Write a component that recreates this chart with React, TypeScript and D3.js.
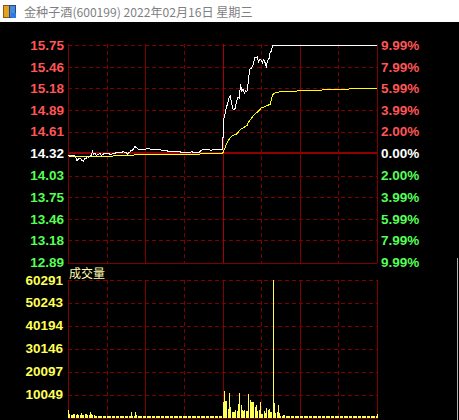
import React from "react";
import * as d3 from "d3";

const W = 459;
const H = 420;

const titleText = "金种子酒(600199) 2022年02月16日 星期三";
const volTitle = "成交量";

// price axis tick labels (bottom -> top)
const priceTicks = [12.89, 13.18, 13.46, 13.75, 14.03, 14.32, 14.61, 14.89, 15.18, 15.46, 15.75];
const priceTickLabels = ["12.89", "13.18", "13.46", "13.75", "14.03", "14.32", "14.61", "14.89", "15.18", "15.46", "15.75"];
const pctTickLabels = ["9.99%", "7.99%", "5.99%", "3.99%", "2.00%", "0.00%", "2.00%", "3.99%", "5.99%", "7.99%", "9.99%"];
const preClose = 14.32;

const volTicks = [10049, 20097, 30146, 40194, 50243, 60291];
const volMax = 60291;

const gridMinutes = [0, 30, 60, 90, 120, 150, 180, 210, 240];

// [minute index, price]
const pricePoints: [number, number][] = [
  [0, 14.30], [1, 14.29], [2, 14.28], [3, 14.30], [4, 14.29], [5, 14.30], [6, 14.27], [7, 14.23], [8, 14.25], [9, 14.26],
  [10, 14.25], [11, 14.23], [12, 14.22], [13, 14.26], [14, 14.25], [15, 14.28], [16, 14.27], [17, 14.29], [18, 14.30], [19, 14.35],
  [20, 14.31], [21, 14.33], [22, 14.30], [23, 14.31], [25, 14.32], [26, 14.30], [27, 14.31], [28, 14.32], [30, 14.32], [31, 14.33],
  [32, 14.32], [33, 14.31], [35, 14.32], [37, 14.33], [38, 14.34], [40, 14.34], [41, 14.33], [43, 14.35], [44, 14.34], [45, 14.34],
  [46, 14.31], [47, 14.33], [48, 14.34], [49, 14.37], [50, 14.36], [51, 14.39], [52, 14.42], [53, 14.40], [54, 14.39], [55, 14.37],
  [56, 14.38], [60, 14.38], [62, 14.39], [64, 14.38], [66, 14.38], [67, 14.37], [72, 14.37], [74, 14.36], [76, 14.37], [78, 14.35],
  [86, 14.35], [88, 14.34], [95, 14.34], [96, 14.35], [97, 14.34], [102, 14.34], [104, 14.37], [110, 14.37], [111, 14.36], [112, 14.37],
  [120, 14.37], [121, 14.78], [122, 14.85], [123, 14.93], [124, 14.98], [125, 15.05], [126, 15.08], [127, 14.99], [128, 14.91], [129, 14.90],
  [130, 14.92], [131, 15.02], [132, 15.06], [133, 15.05], [134, 15.23], [135, 15.15], [136, 15.17], [137, 15.12], [138, 15.15], [139, 15.14],
  [140, 15.26], [141, 15.43], [142, 15.44], [143, 15.46], [144, 15.50], [145, 15.58], [146, 15.58], [147, 15.59], [148, 15.53], [149, 15.56],
  [150, 15.55], [151, 15.52], [152, 15.56], [153, 15.52], [154, 15.47], [155, 15.55], [156, 15.56], [157, 15.65], [158, 15.67], [159, 15.75],
  [240, 15.75],
];

// [minute index, average price]
const avgPoints: [number, number][] = [
  [0, 14.30], [2, 14.29], [8, 14.28], [18, 14.28], [19, 14.29], [35, 14.29], [36, 14.30], [51, 14.30], [52, 14.31], [102, 14.31],
  [103, 14.32], [120, 14.32], [121, 14.36], [122, 14.40], [123, 14.45], [124, 14.48], [126, 14.53], [128, 14.56], [131, 14.58], [134, 14.64],
  [136, 14.66], [139, 14.69], [140, 14.73], [143, 14.80], [145, 14.84], [148, 14.88], [150, 14.92], [153, 14.94], [157, 14.97], [158, 15.04],
  [159, 15.10], [162, 15.13], [170, 15.14], [185, 15.15], [200, 15.16], [215, 15.17], [240, 15.18],
];

const volumeMorning = [
  3370, 1500, 1200, 1300, 1500, 1400, 1200, 1600, 1000, 1300,
  1900, 1200, 1000, 1600, 1600, 1100, 1000, 2600, 1600, 900,
  900, 600, 500, 450, 500, 450, 450, 500, 450, 700,
  740, 450, 450, 500, 450, 450, 450, 450, 450, 740,
  740, 450, 740, 450, 450, 450, 450, 450, 450, 2200,
  700, 600, 2600, 900, 450, 450, 450, 450, 450, 450,
  450, 450, 450, 450, 450, 450, 450, 450, 450, 450,
  450, 450, 450, 450, 450, 450, 450, 450, 450, 450,
  450, 450, 450, 450, 450, 450, 450, 450, 450, 450,
  450, 450, 450, 450, 450, 450, 450, 450, 450, 450,
  450, 450, 450, 450, 450, 450, 450, 450, 450, 450,
  450, 450, 870, 450, 450, 450, 450, 450, 450, 450,
];

const volumeAfternoon = [
  7000, 11650, 7400, 7300, 3800, 10900, 4800, 2600, 2600, 2600,
  3370, 3000, 6000, 10900, 5560, 3370, 3060, 3370, 3060, 3060,
  10340, 7740, 7000, 7000, 7000, 4800, 5560, 3060, 3370, 7000,
  1600, 1600, 3060, 1900, 4100, 3370, 3800, 2200, 2500, 60291,
  6290, 1900, 2200, 5560, 1900, 870, 600, 1160, 1160, 870,
  600, 600, 450, 450, 450, 450, 450, 450, 450, 870,
  450, 450, 450, 600, 450, 450, 450, 450, 450, 450,
  450, 450, 450, 450, 450, 450, 450, 450, 450, 450,
  450, 450, 450, 450, 450, 450, 450, 450, 450, 450,
  450, 450, 450, 450, 870, 450, 450, 450, 450, 600,
  450, 450, 450, 450, 450, 450, 450, 450, 450, 450,
  450, 450, 450, 450, 450, 450, 450, 450, 450, 450,
  1500,
];

const RED = "#ff5555";
const GREEN = "#55ff55";
const GRID = "#800000";
const LABEL_FONT = "'Liberation Sans', Arial, sans-serif";
const CJK_FONT = "'Noto Sans CJK SC', sans-serif";

export default function App() {
  const volumes = volumeMorning.concat(volumeAfternoon);
  const x = d3.scaleLinear().domain([0, 240]).range([68, 377]);
  const yP = d3.scaleLinear().domain([12.89, 15.75]).range([262.5, 45]);
  const yV = d3.scaleLinear().domain([0, volMax]).range([417.5, 280]);

  const left = x(0);
  const right = x(240);
  const pTop = yP(15.75);
  const pBot = yP(12.89);
  const vTop = yV(volMax);
  const vBot = yV(0);

  const priceLine = d3
    .line<[number, number]>()
    .x((d) => x(d[0]))
    .y((d) => yP(d[1]));

  const snap = (v: number) => Math.round(v) + 0.5;

  const labelColor = (v: number) => (Math.abs(v - preClose) < 0.001 ? "#ffffff" : v > preClose ? RED : GREEN);

  const vLine = (m: number, y1: number, y2: number, key: string, midColor: string) => {
    const xx = snap(x(m));
    const isSolid = m % 60 === 0;
    const isMid = m === 120;
    return (
      <line
        key={key}
        x1={xx}
        x2={xx}
        y1={y1}
        y2={y2}
        stroke={isMid ? midColor : GRID}
        strokeWidth={1}
        strokeDasharray={isSolid ? undefined : "4,3"}
      />
    );
  };

  return (
    <svg
      width={W}
      height={H}
      viewBox={`0 0 ${W} ${H}`}
      style={{ position: "absolute", left: 0, top: 0, display: "block" }}
      shapeRendering="crispEdges"
    >
      <rect x={0} y={0} width={W} height={H} fill="#000000" />
      {/* title bar */}
      <rect x={0} y={0} width={W} height={22} fill="#ffffff" />
      <g>
        <rect x={3} y={5} width={6} height={12} fill="#e8a020" stroke="#8a5a10" strokeWidth={1} />
        <rect x={9} y={5} width={6} height={12} fill="#4a8ad8" stroke="#1a4a8a" strokeWidth={1} />
        <rect x={11} y={13} width={5} height={5} fill="#2a7ae0" />
      </g>
      <text x={24} y={11} dominantBaseline="central" fontFamily={CJK_FONT} fontSize={12.1} fill="#7f7f7f">
        {titleText}
      </text>

      {/* price panel horizontal grid */}
      {priceTicks.map((v, i) => {
        const yy = snap(yP(v));
        if (i === 0) return <line key={"ph" + i} x1={left} x2={right} y1={yy} y2={yy} stroke={GRID} />;
        if (i === 5)
          return (
            <line key={"ph" + i} x1={left} x2={right} y1={Math.round(yP(v)) - 1} y2={Math.round(yP(v)) - 1} stroke="#900000" strokeWidth={2} />
          );
        return <line key={"ph" + i} x1={left} x2={right} y1={yy} y2={yy} stroke={GRID} strokeDasharray="4,3" />;
      })}
      {gridMinutes.map((m) => vLine(m, pTop - 1, pBot + 0.5, "pv" + m, "#a80000"))}

      {/* volume panel grid */}
      {volTicks.map((v, i) => {
        const yy = snap(yV(v));
        return <line key={"vh" + i} x1={left} x2={right} y1={yy} y2={yy} stroke={GRID} strokeDasharray="4,3" />;
      })}
      <line x1={left} x2={right} y1={snap(vBot)} y2={snap(vBot)} stroke={GRID} />
      {gridMinutes.map((m) => vLine(m, vTop, vBot + 1, "vv" + m, GRID))}

      {/* price & average lines */}
      <path d={priceLine(avgPoints) || ""} fill="none" stroke="#ffff00" strokeWidth={1} />
      <path d={priceLine(pricePoints) || ""} fill="none" stroke="#ffffff" strokeWidth={1} />

      {/* volume bars */}
      {volumes.map((v, i) => {
        const top = Math.round(yV(v));
        const base = Math.round(vBot);
        return (
          <rect key={"vb" + i} x={Math.round(x(i))} y={top} width={1} height={Math.max(1, base - top)} fill="#ffff55" />
        );
      })}

      {/* price labels */}
      {priceTicks.map((v, i) => (
        <text
          key={"pl" + i}
          x={64}
          y={yP(v)}
          textAnchor="end"
          dominantBaseline="central"
          fontFamily={LABEL_FONT}
          fontWeight="bold"
          fontSize={13.5}
          fill={labelColor(v)}
        >
          {priceTickLabels[i]}
        </text>
      ))}
      {priceTicks.map((v, i) => (
        <text
          key={"pc" + i}
          x={381}
          y={yP(v)}
          textAnchor="start"
          dominantBaseline="central"
          fontFamily={LABEL_FONT}
          fontWeight="bold"
          fontSize={13.5}
          fill={labelColor(v)}
        >
          {pctTickLabels[pctTickLabels.length - 1 - i]}
        </text>
      ))}

      {/* volume labels */}
      {volTicks.map((v, i) => (
        <text
          key={"vl" + i}
          x={63}
          y={yV(v)}
          textAnchor="end"
          dominantBaseline="central"
          fontFamily={LABEL_FONT}
          fontWeight="bold"
          fontSize={13.5}
          fill="#ffff55"
        >
          {String(v)}
        </text>
      ))}
      <text x={69} y={272} dominantBaseline="central" fontFamily={CJK_FONT} fontSize={12} fill="#ffffb0">
        {volTitle}
      </text>

      {/* right window edge */}
      <line x1={457.5} x2={457.5} y1={258} y2={H} stroke="#b0b0b0" />
    </svg>
  );
}
